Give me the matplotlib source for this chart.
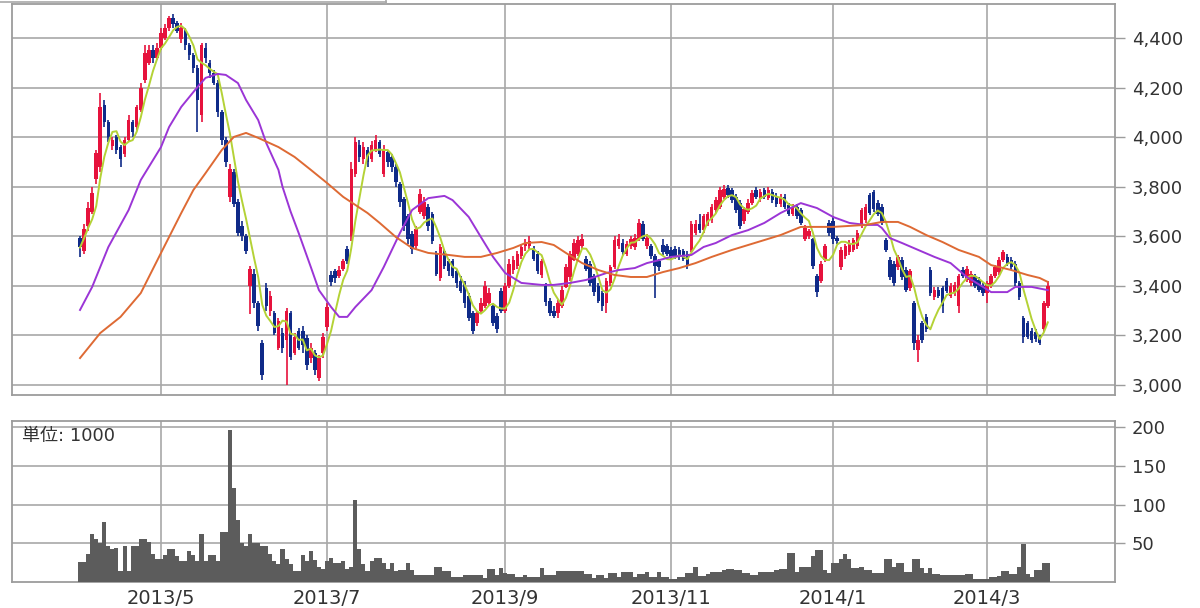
import matplotlib
matplotlib.use("Agg")
import matplotlib.pyplot as plt
from matplotlib.lines import Line2D
import numpy as np
import pandas as pd

plt.rcParams['font.family'] = ['DejaVu Sans', 'Noto Sans CJK JP']

# ---------------- data (trading-day index 0..239) ----------------
opens = [3595, 3540, 3640, 3700, 3830, 3880, 4130, 4060, 3965, 4000,
         3960, 3930, 3990, 4060, 4040, 4110, 4230, 4300, 4350, 4320,
         4360, 4400, 4440, 4480, 4460, 4395, 4430, 4370, 4330, 4280,
         4090, 4360, 4300, 4260, 4220, 4100, 3990, 3760, 3860, 3740,
         3640, 3600, 3400, 3450, 3330, 3170, 3390, 3300, 3290, 3150,
         3210, 3180, 3290, 3130, 3220, 3220, 3190, 3110, 3130, 3030,
         3130, 3235, 3445, 3460, 3440, 3470, 3550, 3600, 3850, 3970,
         3910, 3950, 3910, 3950, 3980, 3850, 3940, 3920, 3880, 3810,
         3750, 3680, 3610, 3560, 3700, 3680, 3720, 3690, 3530, 3430,
         3540, 3500, 3500, 3460, 3420, 3410, 3360, 3290, 3250, 3300,
         3320, 3330, 3320, 3280, 3380, 3300, 3400, 3465, 3480, 3520,
         3560, 3560, 3545, 3530, 3445, 3400, 3340, 3300, 3290, 3320,
         3395, 3435, 3505, 3530, 3560, 3510, 3490, 3440, 3400, 3370,
         3330, 3410, 3475, 3560, 3575, 3530, 3560, 3555, 3590, 3650,
         3560, 3560, 3520, 3500, 3565, 3560, 3545, 3550, 3545, 3540,
         3530, 3545, 3615, 3650, 3625, 3650, 3665, 3705, 3720, 3760,
         3795, 3785, 3760, 3735, 3660, 3700, 3735, 3785, 3750, 3785,
         3755, 3780, 3760, 3730, 3760, 3725, 3690, 3720, 3705, 3590,
         3600, 3590, 3440, 3420, 3505, 3655, 3660, 3595, 3475, 3520,
         3535, 3545, 3560, 3645, 3665, 3765, 3780, 3735, 3720, 3585,
         3505, 3490, 3475, 3505, 3465, 3390, 3330, 3140, 3250, 3275,
         3465, 3355, 3385, 3390, 3420, 3360, 3370, 3320, 3465, 3425,
         3410, 3440, 3425, 3400, 3370, 3400, 3440, 3455, 3505, 3515,
         3505, 3490, 3410, 3270, 3250, 3220, 3215, 3190, 3225, 3320]

highs = [3600, 3650, 3740, 3800, 3950, 4180, 4150, 4070, 4000, 4010,
         3970, 4000, 4090, 4070, 4130, 4220, 4370, 4370, 4370, 4380,
         4440, 4455, 4490, 4495, 4470, 4460, 4440, 4380, 4340, 4290,
         4380, 4380, 4310, 4270, 4230, 4110, 4000, 3890, 3870, 3750,
         3660, 3610, 3480, 3470, 3340, 3180, 3410, 3380, 3300, 3270,
         3230, 3310, 3300, 3210, 3230, 3240, 3200, 3170, 3140, 3120,
         3210, 3330, 3460, 3470, 3480, 3510, 3560, 3900, 4000, 3990,
         3980, 3960, 3985, 4010, 3990, 3970, 3950, 3930, 3890, 3820,
         3760, 3690, 3620, 3640, 3790, 3760, 3730, 3700, 3540, 3570,
         3550, 3510, 3510, 3470, 3440, 3420, 3370, 3300, 3300, 3350,
         3420, 3390, 3330, 3290, 3390, 3410, 3510, 3520, 3540, 3570,
         3590, 3600, 3560, 3540, 3510, 3410, 3350, 3320, 3345, 3400,
         3490, 3540, 3590, 3600, 3610, 3520, 3500, 3450, 3410, 3380,
         3430, 3485, 3600, 3610, 3590, 3580, 3600, 3610, 3670, 3660,
         3610, 3570, 3530, 3510, 3590, 3570, 3555, 3560, 3555, 3550,
         3540, 3660, 3665, 3690, 3690, 3700, 3730, 3760, 3800, 3805,
         3805, 3795, 3770, 3745, 3720, 3750, 3785, 3800, 3790, 3795,
         3800, 3790, 3775, 3770, 3770, 3735, 3730, 3730, 3715, 3645,
         3630, 3595, 3450, 3500, 3570, 3665, 3680, 3600, 3555, 3570,
         3585, 3595, 3625, 3715, 3730, 3775, 3785, 3745, 3730, 3595,
         3515, 3500, 3525, 3515, 3475, 3470, 3340, 3200, 3260, 3285,
         3475, 3395, 3395, 3400, 3430, 3410, 3415, 3450, 3475, 3480,
         3460, 3450, 3435, 3410, 3420, 3450, 3485, 3515, 3545, 3530,
         3515, 3500, 3420, 3280, 3260, 3230, 3225, 3200, 3340, 3420]

lows = [3515, 3530, 3620, 3690, 3810, 3860, 4040, 3980, 3950, 3930,
        3880, 3920, 3980, 4000, 4030, 4100, 4220, 4290, 4300, 4310,
        4350, 4390, 4430, 4440, 4420, 4380, 4350, 4310, 4260, 4020,
        4060, 4300, 4240, 4210, 4080, 3970, 3880, 3740, 3720, 3600,
        3580, 3530, 3285, 3310, 3220, 3020, 3300, 3280, 3200, 3140,
        3130, 3000, 3100, 3120, 3140, 3130, 3060, 3090, 3040, 3015,
        3110, 3220, 3400, 3410, 3430, 3460, 3490, 3580, 3840, 3900,
        3890, 3880, 3900, 3940, 3920, 3840, 3880, 3860, 3800, 3720,
        3620, 3570, 3530, 3550, 3690, 3670, 3620, 3570, 3440, 3420,
        3470, 3440, 3430, 3390, 3370, 3310, 3260, 3205, 3240, 3290,
        3310, 3320, 3240, 3210, 3290, 3290, 3390, 3450, 3470, 3510,
        3540, 3550, 3500, 3450, 3430, 3320, 3280, 3270, 3270, 3310,
        3390, 3420, 3500, 3520, 3550, 3460, 3400, 3360, 3330, 3300,
        3290, 3400, 3470, 3550, 3525, 3520, 3550, 3545, 3580, 3580,
        3550, 3510, 3350, 3460, 3525, 3520, 3505, 3510, 3505, 3500,
        3470, 3535, 3605, 3615, 3615, 3640, 3655, 3695, 3710, 3750,
        3755, 3735, 3695, 3630, 3650, 3690, 3725, 3750, 3740, 3750,
        3745, 3735, 3720, 3720, 3710, 3680, 3680, 3670, 3645, 3580,
        3590, 3470, 3355, 3410, 3495, 3600, 3570, 3570, 3465, 3510,
        3525, 3535, 3550, 3635, 3655, 3685, 3700, 3680, 3645, 3535,
        3425, 3400, 3465, 3425, 3375, 3380, 3140, 3095, 3170, 3215,
        3360, 3345, 3350, 3290, 3370, 3350, 3360, 3290, 3430, 3415,
        3400, 3390, 3375, 3360, 3330, 3390, 3430, 3445, 3495, 3480,
        3465, 3400, 3345, 3170, 3185, 3170, 3175, 3160, 3215, 3310]

closes = [3555, 3630, 3715, 3775, 3935, 4120, 4060, 4000, 3990, 3950,
          3910, 3990, 4070, 4020, 4120, 4200, 4340, 4350, 4320, 4360,
          4420, 4440, 4480, 4455, 4430, 4440, 4370, 4330, 4280, 4150,
          4370, 4320, 4260, 4220, 4100, 3990, 3900, 3870, 3730, 3615,
          3600, 3540, 3470, 3330, 3240, 3040, 3320, 3360, 3210, 3260,
          3150, 3300, 3115, 3195, 3150, 3160, 3080, 3150, 3060, 3110,
          3195, 3315, 3415, 3430, 3465, 3500, 3500, 3870, 3980, 3920,
          3960, 3900, 3970, 3990, 3930, 3950, 3900, 3880, 3820, 3740,
          3640, 3590, 3550, 3630, 3770, 3740, 3640, 3580, 3450, 3555,
          3480, 3460, 3440, 3410, 3380, 3330, 3270, 3220, 3290, 3330,
          3400, 3370, 3250, 3225, 3300, 3400, 3490, 3505, 3530, 3555,
          3570, 3580, 3510, 3460, 3500, 3335, 3290, 3280, 3330, 3385,
          3475, 3530, 3575, 3585, 3590, 3470, 3410, 3375, 3340, 3320,
          3420, 3475, 3585, 3590, 3535, 3570, 3590, 3595, 3655, 3590,
          3595, 3520, 3480, 3475, 3535, 3530, 3515, 3520, 3515, 3510,
          3480, 3650, 3650, 3625, 3680, 3690, 3720, 3745, 3785, 3790,
          3765, 3745, 3705, 3640, 3710, 3735, 3775, 3760, 3780, 3760,
          3785, 3745, 3730, 3760, 3720, 3690, 3720, 3680, 3655, 3635,
          3620, 3480, 3375, 3490, 3560, 3615, 3590, 3580, 3545, 3560,
          3575, 3585, 3615, 3705, 3720, 3695, 3710, 3690, 3655, 3545,
          3435, 3410, 3515, 3435, 3385, 3460, 3170, 3180, 3180, 3225,
          3370, 3385, 3360, 3320, 3380, 3400, 3405, 3440, 3440, 3470,
          3450, 3400, 3385, 3370, 3410, 3440, 3475, 3505, 3535, 3490,
          3475, 3410, 3355, 3195, 3195, 3180, 3185, 3170, 3330, 3400]

volumes = [26, 26, 36, 62, 55, 50, 78, 46, 42, 44,
           14, 46, 14, 46, 46, 55, 55, 52, 36, 30,
           30, 35, 42, 42, 34, 27, 27, 40, 35, 27,
           62, 27, 35, 35, 27, 64, 64, 196, 122, 80,
           51, 46, 62, 50, 50, 46, 46, 36, 27, 23,
           42, 30, 23, 14, 14, 35, 27, 40, 28, 20,
           17, 27, 31, 25, 25, 27, 17, 20, 106, 42,
           23, 14, 27, 31, 31, 25, 17, 25, 14, 15,
           15, 24, 15, 9, 9, 9, 9, 9, 20, 20,
           14, 14, 7, 7, 7, 9, 9, 9, 9, 9,
           5, 17, 17, 9, 18, 11, 10, 10, 7, 7,
           9, 7, 7, 7, 18, 9, 9, 9, 14, 14,
           14, 14, 14, 14, 14, 10, 10, 5, 9, 9,
           5, 11, 11, 7, 13, 13, 13, 7, 10, 10,
           13, 7, 7, 13, 7, 7, 4, 4, 7, 7,
           11, 11, 20, 8, 8, 10, 13, 13, 13, 15,
           17, 17, 15, 15, 11, 11, 9, 9, 13, 13,
           13, 13, 15, 17, 17, 37, 37, 13, 20, 20,
           20, 33, 41, 41, 15, 11, 24, 24, 30, 36,
           30, 18, 18, 20, 16, 16, 11, 11, 11, 30,
           30, 20, 24, 24, 13, 13, 30, 30, 18, 11,
           18, 10, 10, 9, 9, 9, 9, 9, 9, 10,
           10, 4, 4, 4, 4, 7, 7, 8, 14, 14,
           10, 10, 20, 49, 10, 7, 16, 16, 25, 25]

# 25-day and 75-day moving averages (index, value)
ma25_pos = [0, 3, 7, 12, 15, 20, 22, 25, 29, 31, 34, 36, 39, 41, 44, 46, 49, 50,
            52, 54, 57, 59, 62, 64, 66, 68, 72, 75, 79, 82, 86, 90, 92, 96, 99,
            102, 105, 109, 114, 117, 121, 125, 130, 133, 137, 140, 143, 146, 151,
            154, 157, 161, 165, 169, 173, 178, 182, 186, 190, 194, 197, 198, 200,
            203, 207, 211, 215, 219, 223, 225, 229, 231, 235, 239]
ma25_val = [3303, 3396, 3557, 3706, 3827, 3960, 4041, 4122, 4202, 4239, 4255, 4251,
            4218, 4150, 4069, 3976, 3868, 3800, 3700, 3613, 3476, 3383, 3315, 3275,
            3275, 3315, 3383, 3476, 3613, 3706, 3754, 3763, 3746, 3678, 3597, 3517,
            3452, 3412, 3404, 3404, 3412, 3424, 3452, 3464, 3472, 3492, 3504, 3517,
            3525, 3557, 3573, 3605, 3625, 3654, 3694, 3734, 3714, 3678, 3654, 3646,
            3646, 3634, 3593, 3573, 3545, 3517, 3492, 3436, 3396, 3375, 3375, 3396,
            3396, 3383]

ma75_pos = [0, 5, 10, 15, 20, 25, 28, 31, 35, 38, 41, 44, 49, 53, 57, 61, 65, 71,
            74, 78, 82, 86, 91, 95, 99, 103, 107, 110, 114, 117, 120, 124, 128, 132,
            136, 140, 144, 148, 152, 156, 161, 165, 169, 173, 178, 186, 194, 198,
            202, 205, 209, 213, 217, 222, 225, 230, 234, 237, 239]
ma75_val = [3109, 3210, 3275, 3371, 3533, 3694, 3787, 3855, 3948, 4001, 4017, 3997,
            3960, 3920, 3868, 3815, 3759, 3694, 3654, 3597, 3553, 3533, 3525, 3517,
            3517, 3533, 3553, 3573, 3577, 3565, 3533, 3492, 3464, 3444, 3436, 3436,
            3456, 3472, 3492, 3517, 3545, 3565, 3585, 3605, 3638, 3638, 3646, 3658,
            3658, 3638, 3605, 3577, 3545, 3517, 3484, 3464, 3444, 3432, 3416]

month_labels = ['2013/5', '2013/7', '2013/9', '2013/11', '2014/1', '2014/3']
month_pos = [20, 61, 105, 146, 186, 224]
price_ticks = [3000, 3200, 3400, 3600, 3800, 4000, 4200, 4400]
vol_ticks = [50, 100, 150, 200]

# ---------------- styling ----------------
RED = '#e6123c'
BLUE = '#0f2a88'
GRID = '#a8a8a8'
SPINE = '#9c9c9c'
TXT = '#333333'

fig = plt.figure(figsize=(12, 6.08), dpi=100)
ax = fig.add_axes([0.01, 0.35033, 0.91917, 0.64309])
axv = fig.add_axes([0.01, 0.04276, 0.91917, 0.26480])

x = np.arange(len(closes))
o = np.array(opens, dtype=float)
c = np.array(closes, dtype=float)
colors = np.where(c >= o, RED, BLUE)

ax.vlines(x, lows, highs, colors=colors, linewidth=1.2, zorder=3)
body = np.maximum(np.abs(c - o), 8)
ax.bar(x, body, bottom=np.minimum(o, c), width=0.88, color=colors,
       linewidth=0, zorder=3)

ma5 = pd.Series(closes, dtype=float).rolling(5, min_periods=1).mean()
ax.plot(x, ma5, color='#b4d236', lw=1.4, zorder=4)
ax.plot(ma25_pos, ma25_val, color='#9b35d6', lw=1.4, zorder=4)
ax.plot(ma75_pos, ma75_val, color='#de6a34', lw=1.4, zorder=4)

xlim = (-16.8, 255.6)
for a in (ax, axv):
    a.set_xlim(*xlim)
    a.set_xticks(month_pos)
    a.grid(True, color=GRID, lw=1.2)
    a.set_axisbelow(True)
    for s in a.spines.values():
        s.set_color(SPINE)
        s.set_linewidth(1.3)
    a.yaxis.tick_right()
    a.tick_params(axis='y', which='both', direction='out', length=7, width=1.0,
                  color=SPINE, labelcolor=TXT, labelsize=13, pad=5,
                  left=False, labelleft=False)

ax.set_ylim(2960, 4537)
ax.set_yticks(price_ticks)
ax.set_yticklabels([f'{v:,}' for v in price_ticks])
ax.tick_params(axis='x', length=0, labelbottom=False)

axv.bar(x, volumes, width=1.0, color='#5c5c5c', linewidth=0, zorder=3)
axv.set_ylim(0, 208)
axv.set_yticks(vol_ticks)
axv.set_yticklabels([str(v) for v in vol_ticks])
axv.set_xticklabels(month_labels)
axv.tick_params(axis='x', length=0, labelsize=14, labelcolor=TXT, pad=5)
axv.text(0.009, 0.905, '単位: 1000', transform=axv.transAxes, ha='left',
         va='center', fontsize=13, color=TXT,
         family=['DejaVu Sans', 'Noto Sans CJK JP'])

# thin frame fragment at the top-left edge of the page
fig.add_artist(Line2D([0, 386 / 1200], [1 - 1.5 / 608] * 2, color='#a8a8a8',
                      lw=1.2, transform=fig.transFigure))
fig.add_artist(Line2D([386 / 1200] * 2, [1, 1 - 4 / 608], color='#a8a8a8',
                      lw=1.2, transform=fig.transFigure))

fig.savefig('out.png', dpi=100, facecolor='white')
